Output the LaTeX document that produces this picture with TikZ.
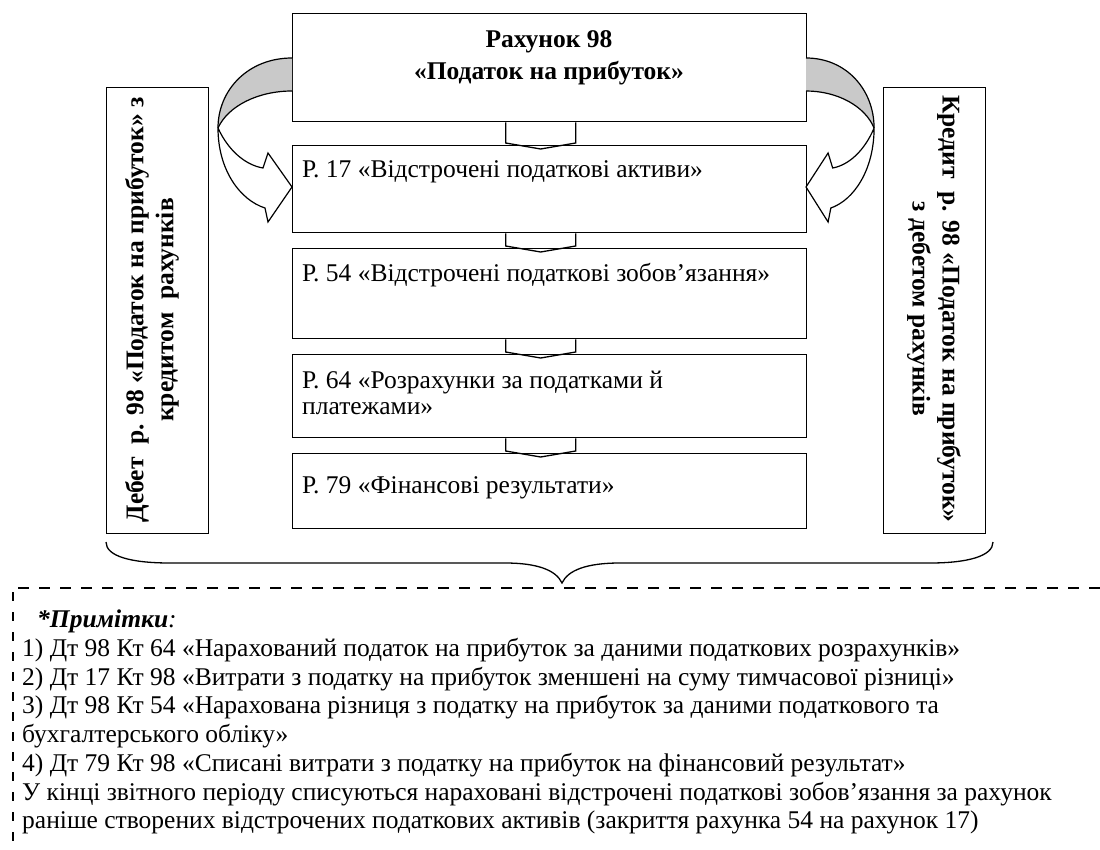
\documentclass[tikz,border=0pt]{standalone}
\usepackage{fontspec}
\setmainfont{Liberation Serif}
\begin{document}
\begin{tikzpicture}[x=1pt,y=-1pt,
  box/.style={draw, line width=1.3pt, inner sep=0pt, anchor=north west},
  txt/.style={inner sep=0pt, font=\fontsize{25.5}{25.6}\selectfont},
  btxt/.style={inner sep=0pt, font=\fontsize{25.5}{30}\selectfont\bfseries, align=center},
  conn/.style={line width=1.3pt, line join=miter},
  arr/.style={line width=1.2pt, line join=miter},
  bandfill/.style={fill=black!21},
  brace/.style={line width=1.3pt},
  hdash/.style={line width=2pt, dash pattern=on 11pt off 10pt},
  vdash/.style={line width=2pt, dash pattern=on 9pt off 11pt},
]
\useasboundingbox (0,0) rectangle (1100,850);

% boxes
\node[box, minimum width=514pt, minimum height=108pt] (acc) at (292,13) {};
\node[box, minimum width=514pt, minimum height=87pt] (p17) at (292,145) {};
\node[box, minimum width=514pt, minimum height=90pt] (p54) at (292,248) {};
\node[box, minimum width=514pt, minimum height=83pt] (p64) at (292,354) {};
\node[box, minimum width=514pt, minimum height=75pt] (p79) at (292,453) {};
\node[box, minimum width=102pt, minimum height=446pt] (lbox) at (106,87) {};
\node[box, minimum width=102pt, minimum height=446pt] (rbox) at (883,87) {};

% texts
\node[btxt, font=\fontsize{25.5}{32}\selectfont\bfseries] (title) at (549,58) {Рахунок 98\\«Податок на прибуток»};
\node[txt, anchor=base west] (t17) at (302,178) {Р. 17 «Відстрочені податкові активи»};
\node[txt, anchor=base west] (t54) at (302,282) {Р. 54 «Відстрочені податкові зобов’язання»};
\node[txt, anchor=north west, align=left] (t64) at (302,371) {Р. 64 «Розрахунки за податками й\\платежами»};
\node[txt, anchor=base west] (t79) at (302,493) {Р. 79 «Фінансові результати»};
\node[btxt, rotate=90] (ltxt) at (152,310) {Дебет~ р. 98 «Податок на прибуток» з\\кредитом~ рахунків};
\node[btxt, rotate=-90] (rtxt) at (934,309) {Кредит~ р. 98 «Податок на прибуток»\\з дебетом рахунків};

% chevron connectors
\foreach \u/\l in {acc/p17, p17/p54, p54/p64, p64/p79}{
  \draw[conn] ([xshift=-44pt]\u.south) -- ([xshift=-44pt,yshift=2pt]\l.north)
    -- ([xshift=-9pt,yshift=-4pt]\l.north) -- ([xshift=26pt,yshift=2pt]\l.north)
    -- ([xshift=26pt]\u.south);
}

% curved arrows (local coords: box edge at x=0, outward is negative x)
\foreach \sh/\sc in {292/1, 806/-0.92}{
\begin{scope}[shift={(\sh,0)}, xscale=\sc]
  \path[bandfill] (0,58) .. controls (-44,58) and (-74,90) .. (-74,128)
     .. controls (-64,106) and (-34,91) .. (0,91) -- cycle;
  \draw[arr] (0,58) .. controls (-44,58) and (-74,90) .. (-74,128)
     .. controls (-74,170) and (-52,200) .. (-27,208)
     -- (-24,222) -- (0,187) -- (-24,153) -- (-29,168)
     .. controls (-47,165) and (-64,150) .. (-74,128);
  \draw[arr] (0,91) .. controls (-34,91) and (-64,106) .. (-74,128);
\end{scope}
}

% brace
\coordinate (bl) at (106,542);
\coordinate (bt) at (562,583);
\coordinate (br) at (993,542);
\draw[brace] (bl) .. controls (106,556) and (130,563) .. (170,563) -- (505,563)
  .. controls (537,563) and (556,570) .. (bt)
  .. controls (568,570) and (587,563) .. (620,563) -- (930,563)
  .. controls (968,563) and (993,556) .. (br);

% dashed notes frame
\draw[hdash] (18,588) -- (1100,588);
\draw[vdash] (13,592) -- (13,850);

% notes
\node[txt, font=\fontsize{25.5}{28.7}\selectfont, anchor=north west, align=left] (notes) at (22,610) {%
\hspace*{15pt}\textbf{\textit{*Примітки}}\textit{:}\\
1) Дт 98 Кт 64 «Нарахований податок на прибуток за даними податкових розрахунків»\\
2) Дт 17 Кт 98 «Витрати з податку на прибуток зменшені на суму тимчасової різниці»\\
3) Дт 98 Кт 54 «Нарахована різниця з податку на прибуток за даними податкового та\\
бухгалтерського обліку»\\
4) Дт 79 Кт 98 «Списані витрати з податку на прибуток на фінансовий результат»\\
У кінці звітного періоду списуються нараховані відстрочені податкові зобов’язання за рахунок\\
раніше створених відстрочених податкових активів (закриття рахунка 54 на рахунок 17)};
\end{tikzpicture}
\end{document}
